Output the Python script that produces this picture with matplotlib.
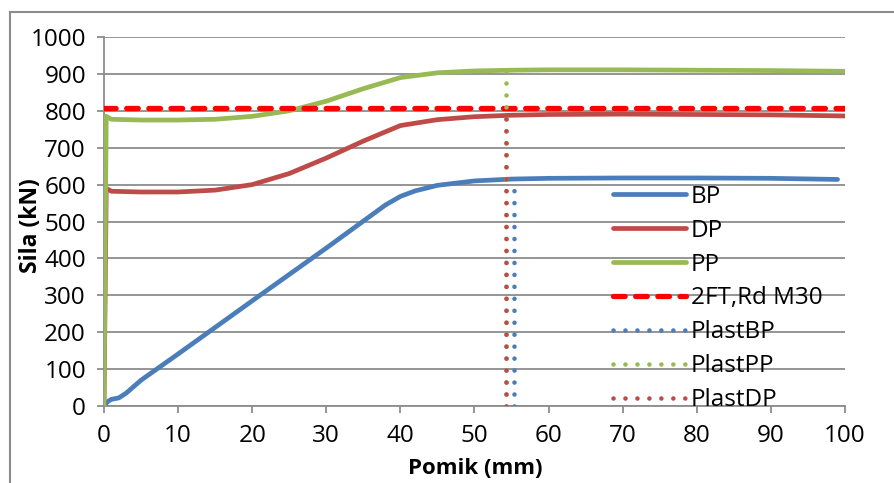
import matplotlib
matplotlib.use('Agg')
import matplotlib.pyplot as plt
from matplotlib.patches import Rectangle

plt.rcParams['font.family'] = ['Open Sans', 'DejaVu Sans']

# pomik (mm) / sila (kN)
bp_x = [0, 0.5, 1, 2, 3, 5, 10, 20, 30, 38, 40, 42, 45, 50, 55, 60, 70, 80, 90, 99]
bp_y = [0, 12, 18, 22, 35, 70, 141, 285, 428, 545, 568, 583, 598, 610, 615, 617, 618, 618, 617, 614]

dp_x = [0, 0.3, 1, 5, 10, 15, 20, 25, 30, 35, 40, 45, 50, 55, 60, 70, 80, 90, 100]
dp_y = [0, 590, 582, 580, 580, 585, 600, 630, 672, 718, 760, 776, 784, 788, 790, 791, 790, 789, 786]

pp_x = [0, 0.3, 1, 5, 10, 15, 20, 25, 30, 35, 40, 45, 50, 55, 60, 70, 80, 90, 100]
pp_y = [0, 785, 777, 775, 775, 777, 785, 800, 826, 860, 890, 903, 908, 910, 911, 911, 910, 909, 907]

ft_x = [0, 100]
ft_y = [808, 808]

plast_bp_x = [55.3, 55.3]
plast_bp_y = [0, 615]
plast_pp_x = [54.3, 54.3]
plast_pp_y = [0, 910]
plast_dp_x = [54.3, 54.3]
plast_dp_y = [0, 790]

fig = plt.figure(figsize=(8.95, 4.83), dpi=100)
ax = fig.add_axes([0.1162, 0.1594, 0.8279, 0.764])

dots = (0, (0.01, 2.6))
ax.plot(bp_x, bp_y, color='#4a7ebb', lw=3.4, label='BP', solid_capstyle='round', zorder=3)
ax.plot(dp_x, dp_y, color='#be4b48', lw=3.4, label='DP', solid_capstyle='round', zorder=3)
ax.plot(pp_x, pp_y, color='#98b954', lw=3.4, label='PP', solid_capstyle='round', zorder=3)
ax.plot(ft_x, ft_y, color='#ff0000', lw=3.8, ls=(0, (2.2, 2.0)), dash_capstyle='round',
        label='2FT,Rd M30', zorder=3)
ax.plot(plast_bp_x, plast_bp_y, color='#4a7ebb', lw=3.3, ls=dots, dash_capstyle='round',
        label='PlastBP', zorder=3)
ax.plot(plast_pp_x, plast_pp_y, color='#98b954', lw=3.3, ls=dots, dash_capstyle='round',
        label='PlastPP', zorder=3)
ax.plot(plast_dp_x, plast_dp_y, color='#be4b48', lw=3.3, ls=dots, dash_capstyle='round',
        label='PlastDP', zorder=3)

ax.set_xlim(0, 100)
ax.set_ylim(0, 1000)
ax.set_xticks(range(0, 101, 10))
ax.set_yticks(range(0, 1001, 100))
ax.yaxis.grid(True, color='#8c8c8c', lw=1.3)
ax.set_axisbelow(True)
for s in ['top', 'right']:
    ax.spines[s].set_visible(False)
for s in ['left', 'bottom']:
    ax.spines[s].set_color('#8c8c8c')
    ax.spines[s].set_linewidth(1.3)
ax.tick_params(direction='out', length=5, width=1.3, color='#8c8c8c',
               labelsize=17.5, pad=8)
ax.tick_params(axis='x', pad=8)

leg = ax.legend(loc='upper left', bbox_to_anchor=(0.687, 0.60), frameon=False,
                fontsize=17.5, handlelength=3.0, handletextpad=0.2, labelspacing=0.41,
                borderpad=0, borderaxespad=0)

fig.text(31 / 895, 1 - 226 / 483, 'Sila (kN)', rotation=90, ha='center', va='center',
         fontsize=16.5, fontweight='bold')
fig.text(475 / 895, 1 - 468 / 483, 'Pomik (mm)', ha='center', va='center',
         fontsize=16, fontweight='bold')

fig.patches.append(Rectangle((10 / 895, -0.1), 2, 1 - 12 / 483 + 0.1, transform=fig.transFigure,
                             fill=False, edgecolor='#8c8c8c', lw=1.5))

fig.savefig('out.png', dpi=100)
